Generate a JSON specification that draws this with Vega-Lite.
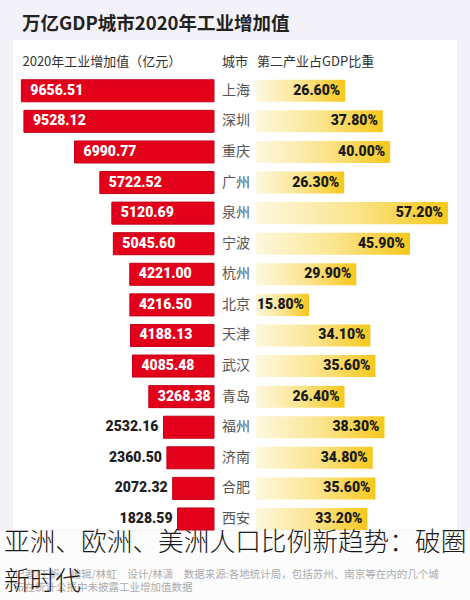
{
  "$schema": "https://vega.github.io/schema/vega-lite/v6.json",
  "background": "#f3f2f8",
  "padding": {"top": 14, "left": 0, "right": 0, "bottom": 0},
  "config": {"view": {"stroke": null}, "font": "Noto Sans CJK SC"},
  "title": {"text": "万亿GDP城市2020年工业增加值", "anchor": "start", "dx": 22, "fontSize": 18.5, "fontWeight": "bold", "color": "#222222", "font": "Noto Sans CJK SC", "offset": 7},
  "spacing": -10,
  "center": true,
  "datasets": {
    "cities": [
      {"city": "上海", "ind": 9656.51, "share": 0.266},
      {"city": "深圳", "ind": 9528.12, "share": 0.378},
      {"city": "重庆", "ind": 6990.77, "share": 0.400},
      {"city": "广州", "ind": 5722.52, "share": 0.263},
      {"city": "泉州", "ind": 5120.69, "share": 0.572},
      {"city": "宁波", "ind": 5045.60, "share": 0.459},
      {"city": "杭州", "ind": 4221.00, "share": 0.299},
      {"city": "北京", "ind": 4216.50, "share": 0.158},
      {"city": "天津", "ind": 4188.13, "share": 0.341},
      {"city": "武汉", "ind": 4085.48, "share": 0.356},
      {"city": "青岛", "ind": 3268.38, "share": 0.264},
      {"city": "福州", "ind": 2532.16, "share": 0.383},
      {"city": "济南", "ind": 2360.50, "share": 0.348},
      {"city": "合肥", "ind": 2072.32, "share": 0.356},
      {"city": "西安", "ind": 1828.59, "share": 0.332}
    ]
  },
  "vconcat": [
    {
      "width": 444,
      "height": 490,
      "view": {"fill": "#ffffff", "stroke": null},
      "data": {"name": "cities"},
      "encoding": {
        "y": {"field": "city", "type": "nominal", "axis": null,
          "scale": {"domain": ["hdr", "上海", "深圳", "重庆", "广州", "泉州", "宁波", "杭州", "北京", "天津", "武汉", "青岛", "福州", "济南", "合肥", "西安"],
            "paddingInner": 0.28, "paddingOuter": 0.15, "align": 1}}
      },
      "resolve": {"scale": {"x": "independent"}},
      "layer": [
        {
          "layer": [
            {
              "mark": {"type": "bar", "color": "#e2001a", "stroke": "#c20018", "strokeWidth": 1},
              "encoding": {
                "x": {"field": "ind", "type": "quantitative", "axis": null, "scale": {"domain": [-12180, 10075], "reverse": true, "nice": false, "zero": false}}
              }
            },
            {
              "transform": [{"filter": "datum.ind >= 3000"}],
              "mark": {"type": "text", "align": "left", "baseline": "middle", "dx": 9, "font": "Roboto, 'Liberation Sans', sans-serif", "fontWeight": 900, "fontSize": 14, "color": "#ffffff"},
              "encoding": {
                "x": {"field": "ind", "type": "quantitative"},
                "text": {"field": "ind", "type": "quantitative", "format": ".2f"}
              }
            },
            {
              "transform": [{"filter": "datum.ind < 3000"}],
              "mark": {"type": "text", "align": "right", "baseline": "middle", "dx": -5, "font": "Roboto, 'Liberation Sans', sans-serif", "fontWeight": 900, "fontSize": 14, "color": "#1e1e1e"},
              "encoding": {
                "x": {"field": "ind", "type": "quantitative"},
                "text": {"field": "ind", "type": "quantitative", "format": ".2f"}
              }
            },
            {
              "mark": {"type": "text", "align": "left", "baseline": "middle", "dx": 8, "fontSize": 14, "color": "#555555"},
              "encoding": {
                "x": {"datum": 0, "type": "quantitative"},
                "text": {"field": "city", "type": "nominal"}
              }
            },
            {
              "data": {"values": [{"label": "2020年工业增加值（亿元）"}]},
              "mark": {"type": "text", "align": "left", "baseline": "middle", "dy": 2, "fontSize": 13, "color": "#333333"},
              "encoding": {
                "x": {"datum": 9600, "type": "quantitative"},
                "y": {"datum": "hdr"},
                "text": {"field": "label", "type": "nominal"}
              }
            },
            {
              "data": {"values": [{"label": "城市"}]},
              "mark": {"type": "text", "align": "left", "baseline": "middle", "dx": 8, "dy": 2, "fontSize": 13, "color": "#333333"},
              "encoding": {
                "x": {"datum": 0, "type": "quantitative"},
                "y": {"datum": "hdr"},
                "text": {"field": "label", "type": "nominal"}
              }
            }
          ]
        },
        {
          "layer": [
            {
              "mark": {"type": "bar", "color": {"gradient": "linear", "x1": 0, "y1": 0, "x2": 1, "y2": 0,
                "stops": [{"offset": 0, "color": "#fdf8df"}, {"offset": 0.5, "color": "#fbe590"}, {"offset": 1, "color": "#f6c81c"}]}},
              "encoding": {
                "x": {"field": "share", "type": "quantitative", "axis": null, "scale": {"domain": [-0.7243, 0.5991], "nice": false, "zero": false}}
              }
            },
            {
              "mark": {"type": "text", "align": "right", "baseline": "middle", "dx": -5, "font": "Roboto, 'Liberation Sans', sans-serif", "fontWeight": 900, "fontSize": 14, "color": "#1a1a1a"},
              "encoding": {
                "x": {"field": "share", "type": "quantitative"},
                "text": {"field": "share", "type": "quantitative", "format": ".2%"}
              }
            },
            {
              "data": {"values": [{"label": "第二产业占GDP比重"}]},
              "mark": {"type": "text", "align": "left", "baseline": "middle", "dx": 1, "dy": 2, "fontSize": 13, "color": "#333333"},
              "encoding": {
                "x": {"datum": 0, "type": "quantitative"},
                "y": {"datum": "hdr"},
                "text": {"field": "label", "type": "nominal"}
              }
            }
          ]
        }
      ]
    },
    {
      "spacing": 0,
      "vconcat": [
        {
          "width": 470,
          "height": 72,
          "view": {"fill": "#ffffff", "fillOpacity": 0.72, "stroke": null},
          "data": {"values": [
            {"kind": "note", "text": "记者/王帆　编辑/林虹　设计/林潇　数据来源:各地统计局，包括苏州、南京等在内的几个城\n市在统计公报中未披露工业增加值数据"},
            {"kind": "caption", "text": "亚洲、欧洲、美洲人口比例新趋势：破圈\n新时代"}
          ]},
          "layer": [
            {
              "transform": [{"filter": "datum.kind === 'note'"}],
              "mark": {"type": "text", "align": "left", "baseline": "top", "lineBreak": "\n", "lineHeight": 12.5, "dx": 14, "fontSize": 10.5, "color": "#ababab"},
              "encoding": {
                "x": {"datum": 0, "type": "quantitative", "axis": null, "scale": {"domain": [0, 1]}},
                "y": {"datum": 39, "type": "quantitative", "axis": null, "scale": {"domain": [0, 72], "reverse": true, "nice": false}},
                "text": {"field": "text", "type": "nominal"}
              }
            },
            {
              "transform": [{"filter": "datum.kind === 'caption'"}],
              "mark": {"type": "text", "align": "left", "baseline": "top", "lineBreak": "\n", "lineHeight": 39, "dx": 4, "fontSize": 25.7, "fontWeight": 300, "color": "#1a1a1a"},
              "encoding": {
                "x": {"datum": 0, "type": "quantitative"},
                "y": {"datum": 0, "type": "quantitative"},
                "text": {"field": "text", "type": "nominal"}
              }
            }
          ]
        },
        {
          "width": 470,
          "height": 8,
          "view": {"fill": "#f29ba3", "stroke": null},
          "data": {"values": []},
          "mark": "point"
        }
      ]
    }
  ]
}
